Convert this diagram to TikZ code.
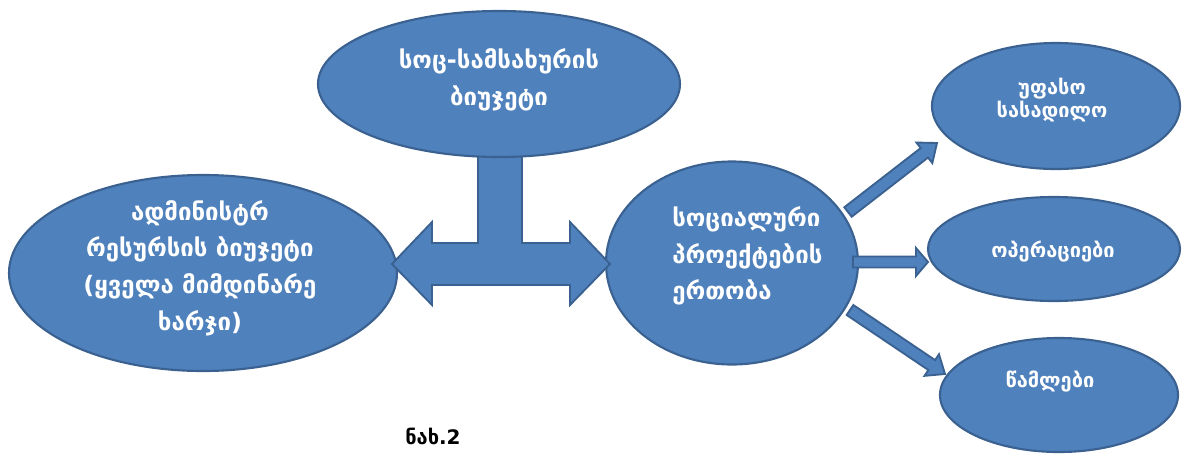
\documentclass[tikz,border=0pt]{standalone}
\usepackage{fontspec}
\setmainfont{DejaVu Sans}
\newfontfamily\geofont[Script=Georgian]{DejaVu Sans}
\usetikzlibrary{shapes.geometric,calc}
\definecolor{ovfill}{HTML}{4F81BD}
\definecolor{ovline}{HTML}{3A6190}
\tikzset{
  ov/.style={ellipse, draw=ovline, fill=ovfill, line width=1.6pt, inner sep=0pt},
  ovsize/.style n args={2}{minimum width={#1*0.75pt}, minimum height={#2*0.75pt}},
  ovtext/.style={text=white, font=\geofont\bfseries\fontsize{18pt}{27.5pt}\selectfont, align=center, inner sep=0pt},
  smtext/.style={text=white, font=\geofont\bfseries\fontsize{15pt}{17pt}\selectfont, align=center, inner sep=0pt},
  blockarrow/.style={draw=ovline, fill=ovfill, line width=1.4pt, line join=miter},
}
% #1 tail, #2 tip, #3 half shaft, #4 half head, #5 head length (in px)
\newcommand\blockarr[5]{%
  \coordinate (ba-c) at ($(#2)!{#5*0.75pt}!(#1)$);
  \draw[blockarrow] ($(#1)!{#3*0.75pt}!90:(#2)$) -- ($(ba-c)!{#3*0.75pt}!-90:(#1)$) -- ($(ba-c)!{#4*0.75pt}!-90:(#1)$) -- (#2) -- ($(ba-c)!{#4*0.75pt}!90:(#1)$) -- ($(ba-c)!{#3*0.75pt}!90:(#1)$) -- ($(#1)!{#3*0.75pt}!-90:(#2)$) -- cycle;
}
\begin{document}
\begin{tikzpicture}[x=0.75pt,y=-0.75pt]
\useasboundingbox (0,0) rectangle (1182,454);
% ellipses
\node[ov, ovsize={388}{196}] (adm) at (203,273) {};
\node[ov, ovsize={252}{203}] (soc) at (732,263) {};
% T-shaped double arrow
\coordinate (tl) at (392,264);
\coordinate (tr) at (610,264);
\draw[blockarrow] (tl) -- (432,222) -- (432,243) -- (478,243) -- (478,140) -- (522,140) -- (522,243) -- (570,243) -- (570,222) -- (tr) -- (570,305) -- (570,285) -- (432,285) -- (432,305) -- cycle;
\node[ov, ovsize={362}{146}] (top) at (499,84) {};
\node[ov, ovsize={248}{126}] (r1) at (1056,106) {};
\node[ov, ovsize={252}{104}] (r2) at (1054,249) {};
\node[ov, ovsize={238}{114}] (r3) at (1059,395) {};
% small arrows
\coordinate (a1t) at (848,212); \coordinate (a1h) at (937,143);
\coordinate (a2t) at (853,262); \coordinate (a2h) at (928,262);
\coordinate (a3t) at (850,310); \coordinate (a3h) at (945,374);
\blockarr{a1t}{a1h}{6}{13}{16}
\blockarr{a2t}{a2h}{5.5}{14}{12}
\blockarr{a3t}{a3h}{6}{13}{16}
% texts
\node[ovtext] (ttop) at (499,80) {სოც-სამსახურის\\ბიუჯეტი};
\node[ovtext] (tadm) at (200,268) {ადმინისტრ\\რესურსის ბიუჯეტი\\(ყველა მიმდინარე\\ხარჯი)};
\node[ovtext, align=left, anchor=west] (tsoc) at (672,256) {სოციალური\\პროექტების\\ერთობა};
\node[smtext] (tr1) at (1052,100) {უფასო\\სასადილო};
\node[smtext] (tr2) at (1053,252) {ოპერაციები};
\node[smtext] (tr3) at (1050,382) {წამლები};
\node[font=\geofont\bfseries\fontsize{15pt}{17pt}\selectfont, inner sep=0pt] (cap) at (433,436) {ნახ.2};
\end{tikzpicture}
\end{document}
